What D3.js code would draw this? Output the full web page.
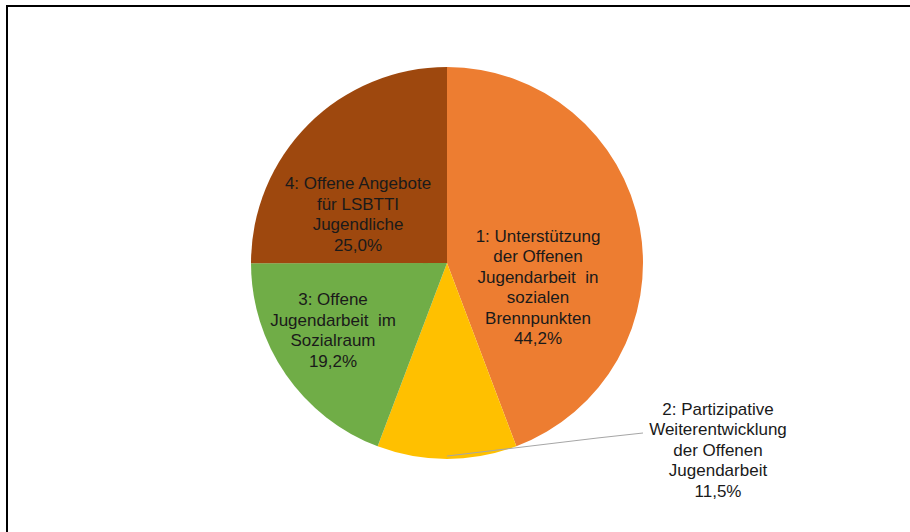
<!DOCTYPE html>
<html>
<head>
<meta charset="utf-8">
<script src="https://cdn.jsdelivr.net/npm/d3@7"></script>
<style>
  html, body { margin: 0; padding: 0; background: #fff; }
  svg { display: block; }
</style>
</head>
<body>
<div id="chart"></div>
<script>
// ---- Data ----
const categories = [
  '1: Unterstützung der Offenen Jugendarbeit in sozialen Brennpunkten',
  '2: Partizipative Weiterentwicklung der Offenen Jugendarbeit',
  '3: Offene Jugendarbeit im Sozialraum',
  '4: Offene Angebote für LSBTTI Jugendliche'
];
const shares = [44.2, 11.5, 19.2, 25.0];
const labelLines = [
  ['1: Unterstützung', 'der Offenen', 'Jugendarbeit  in', 'sozialen', 'Brennpunkten'],
  ['2: Partizipative', 'Weiterentwicklung', 'der Offenen', 'Jugendarbeit'],
  ['3: Offene', 'Jugendarbeit  im', 'Sozialraum'],
  ['4: Offene Angebote', 'für LSBTTI', 'Jugendliche']
];
const sliceColors = ['#ED7D31', '#FFC000', '#70AD47', '#9E480E'];

// ---- Layout ----
const W = 910, H = 532;
const cx = 447, cy = 263, R = 196;
const fontSize = 17, lineH = 20.5;
// label block centre, relative to pie centre
const labelAt = [
  { x: 91,  y: 24 },
  { x: 271, y: 187, outside: true },
  { x: -114, y: 67 },
  { x: -89, y: -49 }
];

const fmtPct = v => d3.format('.1f')(v).replace('.', ',') + '%';

const svg = d3.select('#chart').append('svg')
  .attr('width', W)
  .attr('height', H);

// frame (only top and left edges visible in the crop)
svg.append('path')
  .attr('d', 'M7,' + (H + 5) + 'V6H' + (W + 5))
  .attr('fill', 'none')
  .attr('stroke', '#000')
  .attr('stroke-width', 2);

const pie = d3.pie().sort(null).value(d => d);
const arcs = pie(shares);
const arc = d3.arc().innerRadius(0).outerRadius(R);

const g = svg.append('g').attr('transform', `translate(${cx},${cy})`);

g.selectAll('path.slice')
  .data(arcs)
  .join('path')
  .attr('class', 'slice')
  .attr('d', arc)
  .attr('fill', (d, i) => sliceColors[i]);

// leader line for the small outside label
arcs.forEach((d, i) => {
  if (!labelAt[i].outside) return;
  const mid = (d.startAngle + d.endAngle) / 2;
  const r0 = R * 0.985;
  const x0 = r0 * Math.sin(mid), y0 = -r0 * Math.cos(mid);
  g.append('polyline')
    .attr('points', [[x0, y0], [x0 + 150, y0 - 18], [196, 170]].map(p => p.join(',')).join(' '))
    .attr('fill', 'none')
    .attr('stroke', '#A6A6A6')
    .attr('stroke-width', 1);
});

// labels
arcs.forEach((d, i) => {
  const lines = labelLines[i].concat([fmtPct(shares[i])]);
  const pos = labelAt[i];
  const top = pos.y - (lines.length - 1) * lineH / 2;
  const t = g.append('text')
    .attr('text-anchor', 'middle')
    .attr('font-family', 'Liberation Sans, Arial, sans-serif')
    .attr('font-size', fontSize)
    .attr('fill', '#1a1a1a');
  lines.forEach((ln, k) => {
    t.append('tspan')
      .attr('x', pos.x)
      .attr('y', top + k * lineH)
      .attr('dy', '0.35em')
      .attr('xml:space', 'preserve')
      .text(ln);
  });
});
</script>
</body>
</html>
